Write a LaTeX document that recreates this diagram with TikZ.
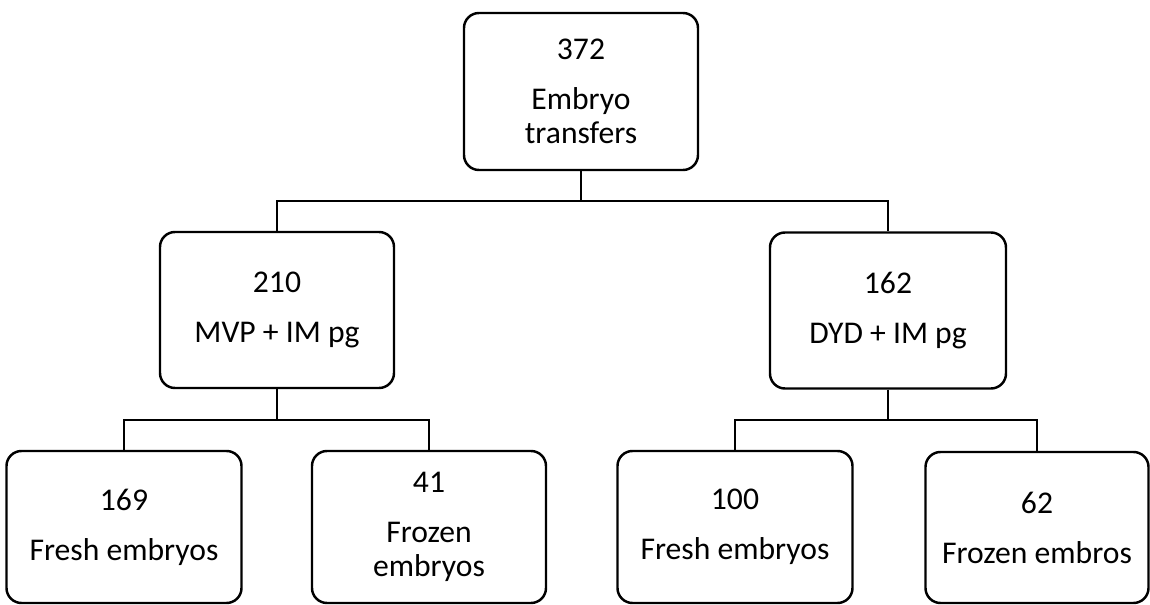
\documentclass[tikz,border=0pt]{standalone}
\usepackage{fontspec}
\setmainfont{Carlito}
\usepackage{tikz}

\begin{document}
\begin{tikzpicture}[
  treebox/.style={draw, line width=1.4pt, rounded corners=0.3cm, align=center,
    inner sep=0pt, minimum width=4.68cm, font=\fontsize{18}{19.4}\selectfont},
  link/.style={line width=1.4pt}]
  \useasboundingbox (0,0) rectangle (23,-12.1);
  % all transfers
  \node[treebox, minimum height=3.14cm] (tot) at (11.62,-1.83) {372\\[0.32cm]Embryo\\transfers};
  % the two groups
  \node[treebox, minimum height=3.12cm] (mvp) at (5.54,-6.20) {210\\[0.32cm]MVP + IM pg};
  \node[treebox, minimum height=3.12cm, minimum width=4.72cm] (dyd) at (17.76,-6.21) {162\\[0.32cm]DYD + IM pg};
  % fresh / frozen
  \node[treebox, minimum height=3.04cm, minimum width=4.70cm] (mvpfresh) at (2.48,-10.54) {169\\[0.32cm]Fresh embryos};
  \node[treebox, minimum height=3.04cm] (mvpfrozen) at (8.58,-10.54) {41\\[0.32cm]Frozen\\embryos};
  \node[treebox, minimum height=3.04cm, minimum width=4.70cm] (dydfresh) at (14.70,-10.54) {100\\[0.32cm]Fresh embryos};
  \node[treebox, minimum height=3.02cm, minimum width=4.46cm] (dydfrozen) at (20.74,-10.55) {62\\[0.32cm]Frozen embros};
  % joints
  \coordinate (jtot) at (11.62,-4.02);
  \coordinate (jmvp) at (5.54,-8.40);
  \coordinate (jdyd) at (17.76,-8.40);
  \draw[link] (tot.south) -- (jtot) -| (mvp.north);
  \draw[link] (jtot) -| (dyd.north);
  \draw[link] (mvp.south) -- (jmvp) -| (mvpfresh.north);
  \draw[link] (jmvp) -| (mvpfrozen.north);
  \draw[link] (dyd.south) -- (jdyd) -| (dydfresh.north);
  \draw[link] (jdyd) -| (dydfrozen.north);
\end{tikzpicture}
\end{document}
